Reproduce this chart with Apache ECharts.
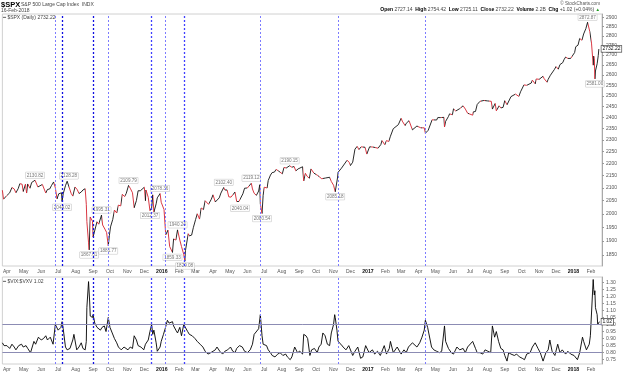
<!DOCTYPE html>
<html><head><meta charset="utf-8">
<script src="https://cdn.jsdelivr.net/npm/echarts@6/dist/echarts.min.js"></script>
<style>html,body{margin:0;padding:0;background:#fff}#c{width:640px;height:373px}</style>
</head><body><div id="c"></div>
<script>
// ---------- DATA ----------
const spxCloses = [
['2015-03-24',2091],['2015-03-26',2056],['2015-03-31',2068],['2015-04-02',2067],['2015-04-06',2081],['2015-04-10',2102],
['2015-04-14',2096],['2015-04-17',2081],['2015-04-21',2097],['2015-04-24',2117],['2015-04-28',2115],['2015-04-30',2086],
['2015-05-04',2115],['2015-05-06',2080],['2015-05-08',2116],['2015-05-12',2099],['2015-05-15',2122],['2015-05-21',2131],
['2015-05-26',2104],['2015-05-29',2107],['2015-06-03',2114],['2015-06-09',2080],['2015-06-12',2094],['2015-06-16',2096],
['2015-06-19',2109],['2015-06-23',2124],['2015-06-26',2101],['2015-06-29',2057],['2015-07-02',2077],['2015-07-07',2081],
['2015-07-08',2047],['2015-07-10',2077],['2015-07-14',2109],['2015-07-17',2127],['2015-07-20',2128],['2015-07-24',2079],
['2015-07-27',2068],['2015-07-31',2104],['2015-08-04',2093],['2015-08-07',2078],['2015-08-11',2084],['2015-08-14',2092],
['2015-08-18',2097],['2015-08-20',2036],['2015-08-21',1971],['2015-08-24',1893],['2015-08-25',1868],['2015-08-27',1988],
['2015-08-31',1972],['2015-09-01',1914],['2015-09-04',1921],['2015-09-08',1970],['2015-09-11',1961],['2015-09-16',1995],
['2015-09-18',1958],['2015-09-22',1943],['2015-09-25',1931],['2015-09-28',1882],['2015-09-30',1920],['2015-10-02',1951],
['2015-10-06',1979],['2015-10-09',2014],['2015-10-13',2003],['2015-10-16',2033],['2015-10-20',2030],['2015-10-23',2075],
['2015-10-27',2066],['2015-10-30',2079],['2015-11-03',2110],['2015-11-06',2099],['2015-11-10',2081],['2015-11-13',2023],
['2015-11-17',2051],['2015-11-20',2089],['2015-11-24',2089],['2015-11-27',2090],['2015-12-01',2103],['2015-12-03',2050],
['2015-12-04',2092],['2015-12-08',2063],['2015-12-11',2012],['2015-12-14',2022],['2015-12-16',2073],['2015-12-18',2006],
['2015-12-22',2038],['2015-12-24',2061],['2015-12-29',2078],['2015-12-31',2044],['2016-01-05',2016],['2016-01-08',1922],
['2016-01-12',1939],['2016-01-15',1880],['2016-01-20',1859],['2016-01-22',1907],['2016-01-26',1903],['2016-01-29',1940],
['2016-02-02',1903],['2016-02-05',1880],['2016-02-09',1852],['2016-02-11',1829],['2016-02-12',1865],['2016-02-17',1926],
['2016-02-19',1918],['2016-02-23',1921],['2016-02-26',1948],['2016-03-01',1978],['2016-03-04',2000],['2016-03-08',1980],
['2016-03-11',2022],['2016-03-15',2016],['2016-03-18',2050],['2016-03-24',2036],['2016-03-29',2056],['2016-04-01',2073],
['2016-04-05',2045],['2016-04-08',2048],['2016-04-12',2061],['2016-04-15',2080],['2016-04-20',2102],['2016-04-22',2092],
['2016-04-26',2092],['2016-04-29',2065],['2016-05-03',2064],['2016-05-06',2058],['2016-05-10',2084],['2016-05-13',2047],
['2016-05-17',2047],['2016-05-19',2040],['2016-05-24',2077],['2016-05-27',2099],['2016-06-01',2100],['2016-06-03',2099],
['2016-06-08',2119],['2016-06-10',2096],['2016-06-13',2079],['2016-06-16',2077],['2016-06-17',2071],['2016-06-21',2088],
['2016-06-23',2113],['2016-06-24',2038],['2016-06-27',2001],['2016-06-29',2071],['2016-07-01',2103],['2016-07-06',2100],
['2016-07-08',2130],['2016-07-12',2152],['2016-07-15',2162],['2016-07-19',2164],['2016-07-22',2175],['2016-07-26',2169],
['2016-07-29',2174],['2016-08-02',2157],['2016-08-05',2183],['2016-08-09',2181],['2016-08-12',2184],['2016-08-15',2190],
['2016-08-19',2184],['2016-08-23',2187],['2016-08-26',2169],['2016-08-30',2177],['2016-09-02',2180],['2016-09-07',2186],
['2016-09-09',2128],['2016-09-12',2159],['2016-09-15',2147],['2016-09-19',2139],['2016-09-22',2177],['2016-09-27',2160],
['2016-09-30',2168],['2016-10-04',2150],['2016-10-07',2153],['2016-10-11',2137],['2016-10-14',2133],['2016-10-18',2140],
['2016-10-21',2141],['2016-10-25',2143],['2016-10-28',2126],['2016-11-01',2111],['2016-11-04',2085],['2016-11-08',2140],
['2016-11-09',2163],['2016-11-11',2164],['2016-11-15',2180],['2016-11-18',2182],['2016-11-25',2213],['2016-11-29',2204],
['2016-12-01',2191],['2016-12-05',2205],['2016-12-09',2260],['2016-12-13',2272],['2016-12-16',2258],['2016-12-20',2270],
['2016-12-23',2264],['2016-12-27',2268],['2016-12-30',2239],['2017-01-04',2270],['2017-01-06',2277],['2017-01-10',2269],
['2017-01-13',2275],['2017-01-19',2264],['2017-01-24',2280],['2017-01-26',2297],['2017-01-31',2279],['2017-02-03',2297],
['2017-02-07',2293],['2017-02-10',2316],['2017-02-15',2349],['2017-02-17',2351],['2017-02-24',2367],['2017-03-01',2396],
['2017-03-03',2383],['2017-03-08',2363],['2017-03-10',2373],['2017-03-15',2385],['2017-03-17',2378],['2017-03-21',2344],
['2017-03-24',2344],['2017-03-29',2361],['2017-03-31',2363],['2017-04-05',2353],['2017-04-07',2355],['2017-04-11',2353],
['2017-04-13',2329],['2017-04-18',2342],['2017-04-21',2349],['2017-04-25',2389],['2017-04-28',2384],['2017-05-03',2388],
['2017-05-05',2399],['2017-05-10',2399],['2017-05-12',2391],['2017-05-16',2400],['2017-05-17',2357],['2017-05-19',2382],
['2017-05-24',2404],['2017-05-26',2416],['2017-05-31',2412],['2017-06-02',2439],['2017-06-06',2429],['2017-06-09',2432],
['2017-06-13',2440],['2017-06-16',2433],['2017-06-19',2453],['2017-06-23',2438],['2017-06-27',2419],['2017-06-30',2423],
['2017-07-06',2410],['2017-07-07',2425],['2017-07-11',2427],['2017-07-14',2459],['2017-07-19',2474],['2017-07-21',2473],
['2017-07-26',2478],['2017-07-28',2472],['2017-08-01',2476],['2017-08-04',2477],['2017-08-08',2474],['2017-08-10',2438],
['2017-08-11',2441],['2017-08-15',2464],['2017-08-17',2430],['2017-08-18',2426],['2017-08-22',2453],['2017-08-25',2443],
['2017-08-29',2446],['2017-09-01',2477],['2017-09-05',2458],['2017-09-08',2461],['2017-09-12',2496],['2017-09-15',2500],
['2017-09-20',2508],['2017-09-22',2502],['2017-09-26',2497],['2017-09-29',2519],['2017-10-05',2552],['2017-10-10',2550],
['2017-10-13',2553],['2017-10-18',2561],['2017-10-20',2575],['2017-10-25',2557],['2017-10-27',2581],['2017-11-01',2579],
['2017-11-03',2588],['2017-11-08',2594],['2017-11-10',2582],['2017-11-15',2565],['2017-11-17',2579],['2017-11-21',2599],
['2017-11-24',2602],['2017-11-28',2627],['2017-12-01',2642],['2017-12-05',2629],['2017-12-08',2652],['2017-12-13',2662],
['2017-12-15',2676],['2017-12-18',2690],['2017-12-22',2683],['2017-12-27',2683],['2017-12-29',2674],['2018-01-03',2713],
['2018-01-05',2743],['2018-01-09',2751],['2018-01-12',2786],['2018-01-16',2777],['2018-01-19',2810],['2018-01-23',2839],
['2018-01-26',2873],['2018-01-30',2822],['2018-02-01',2822],['2018-02-02',2762],['2018-02-05',2649],['2018-02-06',2695],
['2018-02-07',2682],['2018-02-08',2581],['2018-02-09',2620],['2018-02-12',2656],['2018-02-13',2662],['2018-02-14',2698],
['2018-02-15',2731],['2018-02-16',2732.22]
];
const vixRatio = [
['2015-03-24',0.87],['2015-03-27',0.85],['2015-04-01',0.85],['2015-04-06',0.83],['2015-04-10',0.86],['2015-04-14',0.84],
['2015-04-17',0.82],['2015-04-22',0.85],['2015-04-27',0.86],['2015-04-30',0.84],['2015-05-05',0.85],['2015-05-08',0.83],
['2015-05-13',0.80],['2015-05-19',0.88],['2015-05-22',0.86],['2015-05-27',0.91],['2015-06-01',0.89],['2015-06-05',0.90],
['2015-06-09',0.92],['2015-06-12',0.89],['2015-06-17',0.91],['2015-06-22',0.86],['2015-06-25',0.87],['2015-06-26',1.00],
['2015-07-01',0.96],['2015-07-06',0.98],['2015-07-08',1.02],['2015-07-10',0.97],['2015-07-14',0.84],['2015-07-17',0.82],
['2015-07-22',0.83],['2015-07-27',0.89],['2015-07-29',0.93],['2015-08-03',0.82],['2015-08-07',0.84],['2015-08-11',0.87],
['2015-08-14',0.83],['2015-08-18',0.82],['2015-08-20',0.88],['2015-08-21',1.12],['2015-08-24',1.305],['2015-08-26',1.16],
['2015-08-27',1.06],['2015-08-31',1.05],['2015-09-01',1.07],['2015-09-04',1.01],['2015-09-08',0.98],['2015-09-11',0.99],
['2015-09-14',0.96],['2015-09-17',0.98],['2015-09-21',0.99],['2015-09-24',0.95],['2015-09-28',1.05],['2015-10-01',0.98],
['2015-10-05',0.94],['2015-10-09',0.90],['2015-10-13',0.87],['2015-10-16',0.84],['2015-10-21',0.82],['2015-10-26',0.84],
['2015-10-29',0.83],['2015-11-02',0.82],['2015-11-06',0.84],['2015-11-10',0.83],['2015-11-13',0.92],['2015-11-17',0.89],
['2015-11-20',0.85],['2015-11-25',0.84],['2015-11-30',0.82],['2015-12-03',0.86],['2015-12-08',0.89],['2015-12-11',0.95],
['2015-12-14',1.00],['2015-12-16',0.93],['2015-12-18',0.96],['2015-12-22',0.87],['2015-12-24',0.81],['2015-12-29',0.84],
['2015-12-31',0.88],['2016-01-04',0.93],['2016-01-07',0.97],['2016-01-11',1.03],['2016-01-14',1.01],['2016-01-20',1.02],
['2016-01-22',0.99],['2016-01-26',0.96],['2016-01-29',0.94],['2016-02-02',0.98],['2016-02-05',0.92],['2016-02-09',1.00],
['2016-02-11',0.99],['2016-02-16',0.95],['2016-02-19',0.93],['2016-02-24',0.92],['2016-02-29',0.90],['2016-03-04',0.88],
['2016-03-09',0.86],['2016-03-14',0.84],['2016-03-18',0.81],['2016-03-23',0.79],['2016-03-28',0.80],['2016-04-01',0.81],
['2016-04-05',0.82],['2016-04-08',0.84],['2016-04-13',0.81],['2016-04-18',0.79],['2016-04-22',0.81],['2016-04-27',0.82],
['2016-05-02',0.84],['2016-05-06',0.81],['2016-05-10',0.80],['2016-05-13',0.83],['2016-05-18',0.85],['2016-05-23',0.84],
['2016-05-27',0.81],['2016-06-01',0.80],['2016-06-06',0.82],['2016-06-10',0.86],['2016-06-13',0.93],['2016-06-16',0.92],
['2016-06-21',0.97],['2016-06-24',1.07],['2016-06-27',0.92],['2016-06-29',0.86],['2016-07-05',0.85],['2016-07-08',0.82],
['2016-07-12',0.80],['2016-07-15',0.78],['2016-07-20',0.77],['2016-07-25',0.79],['2016-07-29',0.80],['2016-08-03',0.78],
['2016-08-08',0.79],['2016-08-11',0.77],['2016-08-16',0.75],['2016-08-19',0.77],['2016-08-24',0.84],['2016-08-29',0.80],
['2016-09-02',0.81],['2016-09-07',0.79],['2016-09-09',0.93],['2016-09-13',0.92],['2016-09-16',0.90],['2016-09-20',0.78],
['2016-09-23',0.82],['2016-09-28',0.83],['2016-10-03',0.80],['2016-10-06',0.84],['2016-10-10',0.86],['2016-10-13',0.94],
['2016-10-17',0.92],['2016-10-21',0.86],['2016-10-25',0.85],['2016-10-28',0.94],['2016-11-01',1.00],['2016-11-03',1.07],
['2016-11-04',1.05],['2016-11-07',0.96],['2016-11-09',0.88],['2016-11-14',0.86],['2016-11-18',0.84],['2016-11-23',0.82],
['2016-11-28',0.85],['2016-12-01',0.84],['2016-12-05',0.78],['2016-12-09',0.81],['2016-12-14',0.84],['2016-12-19',0.76],
['2016-12-23',0.77],['2016-12-28',0.85],['2017-01-03',0.80],['2017-01-09',0.82],['2017-01-13',0.79],['2017-01-18',0.81],
['2017-01-23',0.78],['2017-01-30',0.85],['2017-02-03',0.79],['2017-02-08',0.83],['2017-02-10',0.88],['2017-02-15',0.80],
['2017-02-22',0.84],['2017-03-01',0.79],['2017-03-06',0.82],['2017-03-10',0.80],['2017-03-14',0.84],['2017-03-21',0.87],
['2017-03-24',0.88],['2017-03-29',0.84],['2017-04-03',0.87],['2017-04-07',0.91],['2017-04-11',0.96],['2017-04-13',1.03],
['2017-04-17',0.98],['2017-04-19',0.99],['2017-04-24',0.84],['2017-04-28',0.82],['2017-05-03',0.81],['2017-05-08',0.80],
['2017-05-12',0.81],['2017-05-17',0.99],['2017-05-19',0.88],['2017-05-24',0.83],['2017-05-29',0.80],['2017-06-02',0.79],
['2017-06-08',0.84],['2017-06-13',0.82],['2017-06-19',0.83],['2017-06-23',0.80],['2017-06-27',0.84],['2017-06-30',0.85],
['2017-07-06',0.88],['2017-07-11',0.83],['2017-07-14',0.80],['2017-07-19',0.80],['2017-07-24',0.79],['2017-07-28',0.82],
['2017-08-02',0.81],['2017-08-07',0.80],['2017-08-10',0.99],['2017-08-14',0.91],['2017-08-17',0.95],['2017-08-21',0.88],
['2017-08-25',0.83],['2017-08-29',0.82],['2017-09-01',0.78],['2017-09-05',0.74],['2017-09-08',0.80],['2017-09-12',0.79],
['2017-09-18',0.78],['2017-09-22',0.79],['2017-09-27',0.77],['2017-10-02',0.76],['2017-10-06',0.75],['2017-10-10',0.79],
['2017-10-16',0.80],['2017-10-20',0.84],['2017-10-25',0.87],['2017-10-30',0.83],['2017-11-03',0.80],['2017-11-08',0.74],
['2017-11-13',0.80],['2017-11-17',0.82],['2017-11-20',0.89],['2017-11-24',0.81],['2017-11-29',0.78],['2017-12-04',0.86],
['2017-12-08',0.80],['2017-12-12',0.82],['2017-12-18',0.79],['2017-12-22',0.81],['2017-12-27',0.79],['2018-01-02',0.78],
['2018-01-08',0.75],['2018-01-12',0.80],['2018-01-17',0.91],['2018-01-19',0.88],['2018-01-24',0.82],['2018-01-29',0.86],
['2018-01-31',0.92],['2018-02-02',0.91],['2018-02-05',1.32],['2018-02-06',1.25],['2018-02-07',1.21],['2018-02-08',1.24],
['2018-02-09',1.12],['2018-02-12',1.07],['2018-02-13',1.00],['2018-02-14',1.00],['2018-02-15',1.01],['2018-02-16',1.02]
];
const annotations = [
['2015-05-21',2130.82,'top'],['2015-07-08',2044.02,'bottom'],['2015-07-20',2128.28,'top'],['2015-08-25',1867.61,'bottom'],
['2015-09-16',1995.31,'top'],['2015-09-28',1881.77,'bottom'],['2015-11-03',2109.79,'top'],['2015-12-11',2012.37,'bottom'],
['2015-12-29',2078.36,'top'],['2016-01-29',1940.24,'top'],['2016-01-20',1859.33,'bottom'],['2016-02-11',1829.08,'bottom'],
['2016-04-20',2102.40,'top'],['2016-05-19',2040.04,'bottom'],['2016-06-08',2119.12,'top'],['2016-06-27',2000.54,'bottom'],
['2016-08-15',2190.15,'top'],['2016-11-04',2085.18,'bottom'],['2018-01-26',2872.87,'top'],['2018-02-08',2581.00,'bottom']
];
const eventLines = [
['2015-06-25','light'],['2015-07-08','dark'],['2015-09-01','dark'],['2015-09-28','light'],['2015-12-14','mid'],
['2016-01-08','light'],['2016-02-10','mid'],['2016-06-24','light'],['2016-11-09','light'],['2017-04-13','light']
];
const priceTicks = [1850,1900,1950,2000,2050,2100,2150,2200,2250,2300,2350,2400,2450,2500,2550,2600,2650,2700,2750,2800,2850,2900];
const ratioTicks = [0.75,0.80,0.85,0.90,0.95,1.00,1.05,1.10,1.15,1.20,1.25,1.30];
const ratioRefLines = [1.00, 0.80];
const monthNames = ['Jan','Feb','Mar','Apr','May','Jun','Jul','Aug','Sep','Oct','Nov','Dec'];

// ---------- BUILD ----------
const D = s => { const p = s.split('-').map(Number); return new Date(p[0], p[1]-1, p[2]).getTime(); };
const xMin = D('2015-03-24');
const xMax = D('2018-02-20') + 15*3600e3;
const FONT = '"Liberation Sans", Arial, sans-serif';
const RED = '#d4202c', BLK = '#111';

const spxData = spxCloses.map(r => [D(r[0]), Math.log(r[1]), r[1]]);
const ratioData = vixRatio.map(r => [D(r[0]), r[1]]);
const pieces = [];
for (let i = 1; i < spxData.length; i++) {
  pieces.push({ gt: spxData[i-1][0], lte: spxData[i][0], color: spxData[i][2] >= spxData[i-1][2] ? BLK : RED });
}
const evColor = { light: '#7c7cff', mid: '#4040ff', dark: '#1010e0' };
const evMark = () => eventLines.map(e => ({ xAxis: D(e[0]),
  lineStyle: { color: evColor[e[1]], type: [2, 2], width: e[1] === 'light' ? 1 : 1.3, opacity: 1 } }));

const xAxisCommon = (gi) => ({
  type: 'time', gridIndex: gi, min: xMin, max: xMax, splitNumber: 36,
  minInterval: 27*864e5, maxInterval: 32*864e5,
  axisLine: { show: false }, axisTick: { show: false }, splitLine: { show: false },
  axisLabel: {
    interval: 0, hideOverlap: false, margin: 3, fontSize: 5, color: '#555', fontFamily: FONT,
    formatter: v => { const d = new Date(v); return d.getMonth() === 0 ? '{y|' + d.getFullYear() + '}' : monthNames[d.getMonth()]; },
    rich: { y: { fontWeight: 'bold', color: '#111', fontSize: 5.2, fontFamily: FONT } }
  }
});

const option = {
  animation: false,
  backgroundColor: '#fff',
  grid: [
    { left: 2, top: 14, width: 600, height: 252, show: true, borderColor: '#c4c4c4', borderWidth: 0.8 },
    { left: 2, top: 277, width: 600, height: 87, show: true, borderColor: '#c4c4c4', borderWidth: 0.8 }
  ],
  xAxis: [ xAxisCommon(0), xAxisCommon(1) ],
  yAxis: [
    { type: 'value', gridIndex: 0, position: 'right', min: Math.log(1811.9), max: Math.log(2918.2),
      splitLine: { show: false },
      axisLine: { show: true, lineStyle: { color: '#999', width: 0.8 } },
      axisTick: { show: true, length: 2, lineStyle: { color: '#999' }, customValues: priceTicks.map(Math.log) },
      axisLabel: { margin: 4, fontSize: 5, color: '#555', fontFamily: FONT, customValues: priceTicks.map(Math.log),
        formatter: v => String(Math.round(Math.exp(v))) } },
    { type: 'value', gridIndex: 1, position: 'right', min: 0.7194, max: 1.3377,
      splitLine: { show: false },
      axisLine: { show: true, lineStyle: { color: '#999', width: 0.8 } },
      axisTick: { show: true, length: 2, lineStyle: { color: '#999' }, customValues: ratioTicks },
      axisLabel: { margin: 4, fontSize: 5, color: '#555', fontFamily: FONT, customValues: ratioTicks,
        formatter: v => v.toFixed(2) } }
  ],
  visualMap: [{ type: 'piecewise', show: false, seriesIndex: 0, dimension: 0, pieces: pieces, outOfRange: { color: BLK } }],
  series: [
    { type: 'line', name: 'SPX', xAxisIndex: 0, yAxisIndex: 0, data: spxData, showSymbol: false, symbol: 'none',
      lineStyle: { width: 0.9 }, encode: { x: 0, y: 1 }, z: 3,
      endLabel: { show: true, distance: 2, formatter: p => p.value[2].toFixed(2), fontSize: 5, color: '#111', fontFamily: FONT,
        backgroundColor: '#fff', borderColor: '#333', borderWidth: 0.6, padding: [0.5, 1] } },
    { type: 'line', name: 'Ratio', xAxisIndex: 1, yAxisIndex: 1, data: ratioData, showSymbol: false, symbol: 'none',
      lineStyle: { width: 0.9, color: '#000' }, itemStyle: { color: '#000' }, z: 3,
      endLabel: { show: true, distance: 2, formatter: p => p.value[1].toFixed(2), fontSize: 5, color: '#111', fontFamily: FONT,
        backgroundColor: '#fff', borderColor: '#333', borderWidth: 0.6, padding: [0.5, 1] },
      markLine: { silent: true, symbol: ['none','none'], label: { show: false },
        data: evMark().concat(ratioRefLines.map(v => ({ yAxis: v, lineStyle: { color: '#8c8cb4', type: 'solid', width: 1 } }))) } },
    { type: 'scatter', xAxisIndex: 0, yAxisIndex: 0, symbolSize: 0, z: 4, silent: true,
      data: annotations.map(a => ({ value: [D(a[0]), Math.log(a[1]), a[1]], label: { position: a[2] } })),
      label: { show: true, distance: 2, fontSize: 4.6, color: '#555', fontFamily: FONT, backgroundColor: '#fff',
        borderColor: '#bbb', borderWidth: 0.5, padding: [0.5, 1], formatter: p => p.value[2].toFixed(2) } },
    { type: 'line', name: 'events', xAxisIndex: 0, yAxisIndex: 0, data: [], z: 1, silent: true,
      lineStyle: { color: '#4040ff' }, itemStyle: { color: '#4040ff' },
      markLine: { silent: true, symbol: ['none','none'], label: { show: false }, data: evMark() } }
  ],
  graphic: [
    { type: 'text', left: 1, top: 1, style: { text: '$SPX', font: 'bold 7.5px ' + FONT, fill: '#000' } },
    { type: 'text', left: 21, top: 2.5, style: { text: 'S&P 500 Large Cap Index  INDX', font: '5px ' + FONT, fill: '#444' } },
    { type: 'text', left: 1, top: 8.5, style: { text: '16-Feb-2018', font: '5px ' + FONT, fill: '#444' } },
    { type: 'text', right: 40, top: 1.5, style: { text: '© StockCharts.com', font: '4.6px ' + FONT, fill: '#555' } },
    { type: 'text', right: 40, top: 7.5, style: {
        text: '{b|Open} 2727.14  {b|High} 2754.42  {b|Low} 2725.11  {b|Close} 2732.22  {b|Volume} 2.2B  {b|Chg} +1.02 (+0.04%) {g|▲}',
        font: '5px ' + FONT, fill: '#444',
        rich: { b: { fontWeight: 'bold', fontSize: 5, fill: '#000', fontFamily: FONT }, g: { fontSize: 4.5, fill: '#1a9a1a' } } } },
    { type: 'text', left: 3, top: 15.5, style: { text: '━ $SPX (Daily) 2732.22', font: '5px ' + FONT, fill: '#444' } },
    { type: 'text', left: 3, top: 279, style: { text: '━ $VIX:$VXV 1.02', font: '5px ' + FONT, fill: '#444' } }
  ]
};
const chart = echarts.init(document.getElementById('c'), null, { renderer: 'canvas' });
chart.setOption(option);
</script></body></html>
